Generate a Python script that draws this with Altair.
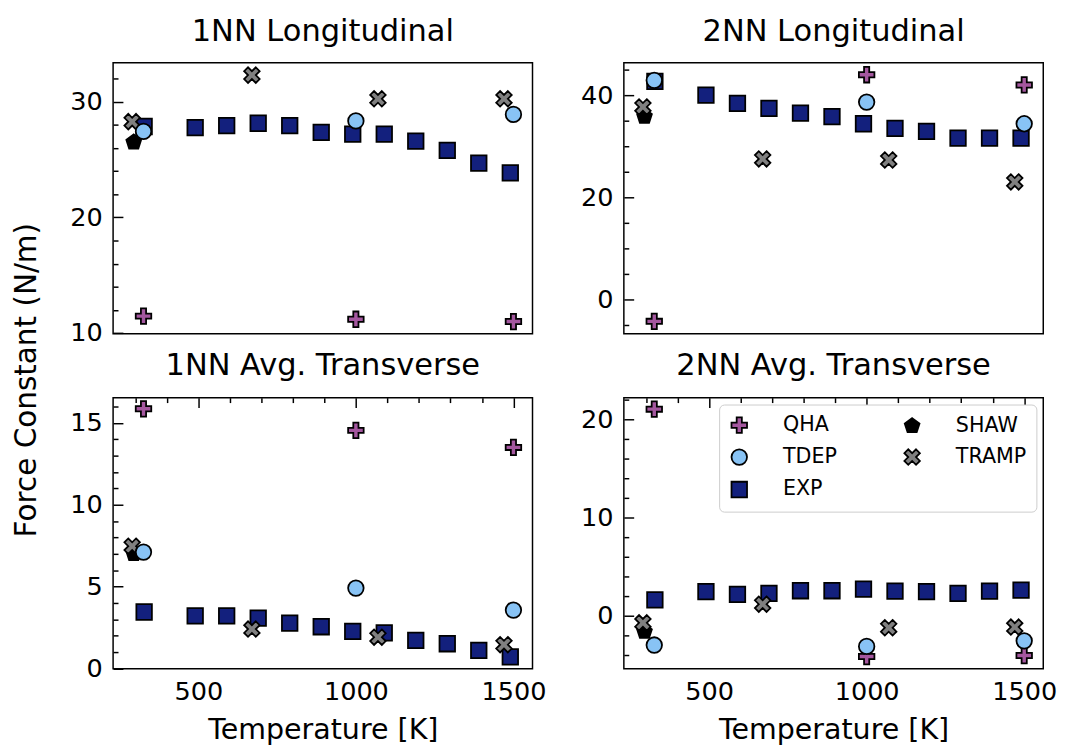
import altair as alt
import pandas as pd

FONT = "DejaVu Sans"

# ---- temperatures (K) of each data series ----
T_QHA = [326, 1000, 1500]
T_TDEP = [326, 1000, 1500]
T_EXP = [328, 490, 590, 690, 790, 890, 990, 1090, 1190, 1290, 1390, 1490]
T_SHAW = [295]
T_TRAMP = [290, 670, 1070, 1470]

# ---- 1NN Longitudinal ----
L1_QHA = [11.47, 11.2, 11.0]
L1_TDEP = [27.43, 28.34, 28.9]
L1_EXP = [27.86, 27.77, 27.94, 28.14, 27.94, 27.35, 27.2, 27.2, 26.6, 25.8, 24.7, 23.85]
L1_SHAW = [26.5]
L1_TRAMP = [28.28, 32.3, 30.25, 30.25]

# ---- 2NN Longitudinal ----
L2_QHA = [-4.3, 44.0, 42.0]
L2_TDEP = [42.9, 38.65, 34.4]
L2_EXP = [42.7, 40.0, 38.4, 37.4, 36.5, 35.8, 34.4, 33.5, 32.9, 31.6, 31.6, 31.6]
L2_SHAW = [35.8]
L2_TRAMP = [37.7, 27.5, 27.3, 23.0]

# ---- 1NN Avg. Transverse ----
T1_QHA = [15.86, 14.54, 13.5]
T1_TDEP = [7.1, 4.9, 3.56]
T1_EXP = [3.44, 3.2, 3.2, 3.06, 2.76, 2.54, 2.26, 2.16, 1.7, 1.5, 1.1, 0.7]
T1_SHAW = [7.0]
T1_TRAMP = [7.46, 2.4, 1.9, 1.44]

# ---- 2NN Avg. Transverse ----
T2_QHA = [21.03, -4.17, -4.07]
T2_TDEP = [-3.0, -3.14, -2.57]
T2_EXP = [1.6, 2.43, 2.16, 2.26, 2.53, 2.53, 2.7, 2.5, 2.43, 2.26, 2.5, 2.6]
T2_SHAW = [-1.64]
T2_TRAMP = [-0.74, 1.16, -1.24, -1.17]

# legend order (filled column by column, 2 columns) and colours / shapes
LEGEND_ORDER = ["QHA", "TDEP", "EXP", "SHAW", "TRAMP"]
FILLS = {"QHA": "#a4579f", "SHAW": "#000000", "TDEP": "#88c3f5", "TRAMP": "#808080", "EXP": "#13207d"}
PLUS = "M-0.333,-1L0.333,-1L0.333,-0.333L1,-0.333L1,0.333L0.333,0.333L0.333,1L-0.333,1L-0.333,0.333L-1,0.333L-1,-0.333L-0.333,-0.333Z"
XSHAPE = "M0.5,-1L1,-0.5L0.5,0L1,0.5L0.5,1L0,0.5L-0.5,1L-1,0.5L-0.5,0L-1,-0.5L-0.5,-1L0,-0.5Z"
PENTA = "M0,-1L0.951,-0.309L0.588,0.809L-0.588,0.809L-0.951,-0.309Z"
SHAPES = {"QHA": PLUS, "SHAW": PENTA, "TDEP": "circle", "TRAMP": XSHAPE, "EXP": "square"}

X_DOMAIN = [229.5, 1560.5]
X_TICKS = list(range(300, 1501, 100))


def panel_df(qha, tdep, exp, shaw, tramp):
    rows = []
    # drawing order: EXP at bottom, TDEP on top
    for name, ts, vs in [("EXP", T_EXP, exp), ("QHA", T_QHA, qha), ("SHAW", T_SHAW, shaw),
                         ("TRAMP", T_TRAMP, tramp), ("TDEP", T_TDEP, tdep)]:
        for t, v in zip(ts, vs):
            rows.append({"T": t, "F": v, "series": name})
    return pd.DataFrame(rows)


def minor_axis(values, major, title=None, orient="left"):
    # inward ticks drawn as short dashed grid lines starting at the axis edge
    return alt.Axis(
        values=values, title=title, orient=orient, format="d",
        labelExpr=f"datum.value % {major} == 0 ? datum.label : ''",
        ticks=False, tickSize=0, domain=False,
        grid=True, gridColor="black", gridWidth=1.5, gridOpacity=1,
        gridDash={"condition": {"test": f"datum.value % {major} != 0", "value": [5, 3000]},
                  "value": [10, 3000]},
        labelPadding=11 if orient == "left" else 10,
        titlePadding=12,
    )


def panel(df, title, ydom, yvals, ymajor, bottom, legend=False):
    if bottom:
        xenc = alt.X("T:Q", scale=alt.Scale(domain=X_DOMAIN, nice=False, zero=False),
                     axis=minor_axis(X_TICKS, 500, title="Temperature [K]", orient="bottom"))
    else:
        xenc = alt.X("T:Q", scale=alt.Scale(domain=X_DOMAIN, nice=False, zero=False), axis=None)
    leg = None
    if legend:
        leg = alt.Legend(
            title=None, orient="none", legendX=97, legendY=7, columns=2,
            strokeColor="#cccccc", fillColor="white", cornerRadius=5, padding=10,
            labelFont=FONT, labelFontSize=21, labelColor="black",
            symbolSize=250, symbolStrokeColor="black", symbolStrokeWidth=1.8,
            labelOffset=34, rowPadding=8, columnPadding=64,
        )
    dom = LEGEND_ORDER
    return alt.Chart(df).mark_point(
        filled=True, stroke="black", strokeWidth=1.8, opacity=1, size=250
    ).encode(
        x=xenc,
        y=alt.Y("F:Q", scale=alt.Scale(domain=ydom, nice=False, zero=False),
                axis=minor_axis(yvals, ymajor)),
        shape=alt.Shape("series:N", scale=alt.Scale(domain=dom, range=[SHAPES[s] for s in dom]),
                        legend=leg),
        fill=alt.Fill("series:N", scale=alt.Scale(domain=dom, range=[FILLS[s] for s in dom]),
                      legend=leg),
        stroke=alt.Stroke("series:N", scale=alt.Scale(domain=dom, range=["black"] * len(dom)),
                          legend=leg),
    ).properties(
        width=427, height=276,
        title=alt.TitleParams(title, fontSize=31, font=FONT, fontWeight="normal",
                              anchor="middle", offset=15.6, color="black"),
    )


tl = panel(panel_df(L1_QHA, L1_TDEP, L1_EXP, L1_SHAW, L1_TRAMP), "1NN Longitudinal",
           [9.94, 33.37], list(range(10, 33, 2)), 10, bottom=False)
tr = panel(panel_df(L2_QHA, L2_TDEP, L2_EXP, L2_SHAW, L2_TRAMP), "2NN Longitudinal",
           [-6.75, 46.35], list(range(-5, 46, 5)), 20, bottom=False)
bl = panel(panel_df(T1_QHA, T1_TDEP, T1_EXP, T1_SHAW, T1_TRAMP), "1NN Avg. Transverse",
           [-0.03, 16.54], list(range(0, 17, 1)), 5, bottom=True)
br = panel(panel_df(T2_QHA, T2_TDEP, T2_EXP, T2_SHAW, T2_TRAMP), "2NN Avg. Transverse",
           [-5.42, 22.2], list(range(-4, 23, 2)), 10, bottom=True, legend=True)

chart = alt.concat(
    tl, tr, bl, br, columns=2, align="each",
    spacing={"row": 2, "column": 33},
).resolve_scale(shape="independent", fill="independent", stroke="independent").resolve_legend(
    shape="independent", fill="independent", stroke="independent"
).properties(
    title=alt.TitleParams("Force Constant (N/m)", orient="left", anchor="middle",
                          fontSize=30, font=FONT, fontWeight="normal", offset=28, color="black"),
    padding={"left": 4, "top": 0, "right": 0, "bottom": 0},
).configure_view(
    stroke="black", strokeWidth=1.5
).configure_axis(
    labelFont=FONT, labelFontSize=26, labelColor="black",
    titleFont=FONT, titleFontSize=29, titleFontWeight="normal", titleColor="black",
)

chart.save("out.html", embed_options={"renderer": "svg", "actions": False})
